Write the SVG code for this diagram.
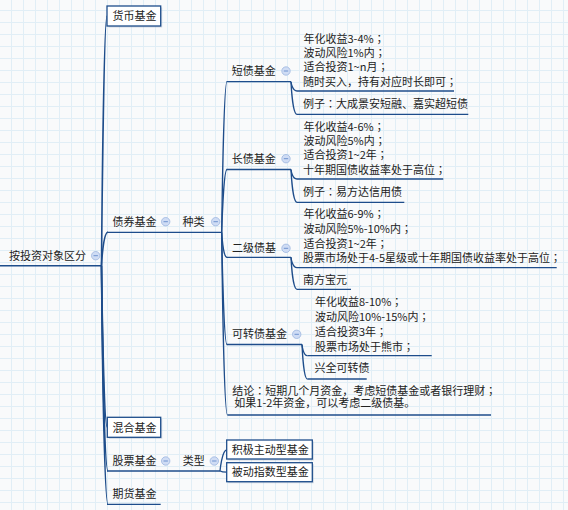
<svg xmlns="http://www.w3.org/2000/svg" width="568" height="510" viewBox="0 0 568 510">
<defs>
<pattern id="grid" x="11" y="10" width="12" height="12" patternUnits="userSpaceOnUse">
<path d="M0,0.5 H12 M0.5,0 V12" stroke="#e1eef6" stroke-width="1" fill="none"/>
</pattern>
<g id="minus">
<circle cx="0" cy="0" r="4.2" fill="#cfdcf4" stroke="#9db6e0" stroke-width="0.8"/>
<line x1="-2.2" y1="0" x2="2.2" y2="0" stroke="#6f93cf" stroke-width="1"/>
</g>
</defs>
<style>
text{font-family:"Noto Sans CJK SC","Noto Sans",sans-serif;font-size:11px;fill:#222}
.p{font-family:"Noto Sans CJK TC","Noto Sans CJK SC",sans-serif}
.ul{stroke:#1e4d8b;stroke-width:1.3;fill:none}
.cn{stroke:#1e4d8b;stroke-width:1.3;fill:none}
.sp{stroke:#1e4d8b;stroke-width:1.6;fill:none}
.box{fill:#fff;stroke:#1e4d8b;stroke-width:1.3}
.sh{fill:#9fb0c6;opacity:.45}
</style>
<rect width="568" height="510" fill="#f9fafb"/>
<rect width="568" height="510" fill="url(#grid)"/>

<g id="connectors">
<path class="sp" d="M101.5,265.7 C101.5,265.7 103.5,16 107,16"/>
<path class="sp" d="M101.5,265.7 C101.5,265.7 103,232.3 108,232.3"/>
<path class="sp" d="M101.5,265.7 C101.5,265.7 103.5,427.3 107.3,427.3"/>
<path class="sp" d="M101.5,265.7 C101.5,265.7 103.5,471 108,471"/>
<path class="sp" d="M101.5,265.7 C101.5,265.7 103.5,504.3 108,504.3"/>

<path class="cn" d="M221.7,232.3 C221.7,232.3 223.5,81.7 227,81.7"/>
<path class="cn" d="M221.7,232.3 C221.7,232.3 223.5,169.5 227,169.5"/>
<path class="cn" d="M221.7,232.3 C221.7,232.3 223,257.3 227,257.3"/>
<path class="cn" d="M221.7,232.3 C221.7,232.3 223.5,344.5 227,344.5"/>
<path class="cn" d="M221.7,232.3 C221.7,232.3 223.5,415 227.5,415"/>

<path class="cn" d="M291,81.7 C291,81.7 292,91 297,91"/>
<path class="cn" d="M291,81.7 C291,81.7 292.5,114.3 297,114.3"/>
<path class="cn" d="M291,169.5 C291,169.5 292,179 297,179"/>
<path class="cn" d="M291,169.5 C291,169.5 292.5,202.3 297,202.3"/>
<path class="cn" d="M291,257.3 C291,257.3 292,267.7 297,267.7"/>
<path class="cn" d="M291,257.3 C291,257.3 292.5,289.3 297,289.3"/>
<path class="cn" d="M302,344.5 C302,344.5 303,355.7 307.3,355.7"/>
<path class="cn" d="M302,344.5 C302,344.5 303.5,379 307.3,379"/>

<path class="cn" d="M220,471 C220,471 222,450 226.7,450"/>
<path class="cn" d="M220,471 C220,471 222,472.2 226.7,472.2"/>
</g>

<g id="root">
<text x="9" y="259.7">按投资对象区分</text>
<use href="#minus" x="95.7" y="255.7"/>
<path class="sp" d="M0,265.7 H101.5"/>
</g>

<g id="n-huobi">
<rect class="sh" x="108.5" y="7.5" width="53.7" height="20"/>
<rect class="box" x="107" y="6" width="53.7" height="20"/>
<text x="112.5" y="20.3">货币基金</text>
</g>

<g id="n-zhaiquan">
<text x="112.5" y="226">债券基金</text>
<use href="#minus" x="165.7" y="221.7"/>
<path class="ul" d="M107,232.3 H176"/>
</g>

<g id="n-zhonglei">
<text x="182.5" y="226">种类</text>
<use href="#minus" x="215.7" y="221.7"/>
<path class="ul" d="M176,232.3 H221.7"/>
</g>

<g id="n-duanzhai">
<text x="231.7" y="75">短债基金</text>
<use href="#minus" x="286" y="71"/>
<path class="ul" d="M226.7,81.7 H291"/>
</g>
<g id="n-duanzhai-info">
<text><tspan x="303.5" y="42.7">年化收益3-4%<tspan class="p">；</tspan></tspan><tspan x="303.5" y="57">波动风险1%内<tspan class="p">；</tspan></tspan><tspan x="303.5" y="71.4">适合投资1~n月<tspan class="p">；</tspan></tspan><tspan x="303" y="86">随时买入，持有对应时长即可<tspan class="p">；</tspan></tspan></text>
<path class="ul" d="M297,91 H454"/>
</g>
<g id="n-duanzhai-eg">
<text x="303" y="108.4">例子<tspan class="p">：</tspan>大成景安短融、嘉实超短债</text>
<path class="ul" d="M297,114.3 H468.3"/>
</g>

<g id="n-changzhai">
<text x="231.7" y="162.7">长债基金</text>
<use href="#minus" x="286" y="158.7"/>
<path class="ul" d="M226.7,169.5 H291"/>
</g>
<g id="n-changzhai-info">
<text><tspan x="303.5" y="130.7">年化收益4-6%<tspan class="p">；</tspan></tspan><tspan x="303.5" y="145">波动风险5%内<tspan class="p">；</tspan></tspan><tspan x="303.5" y="159.4">适合投资1~2年<tspan class="p">；</tspan></tspan><tspan x="303" y="174">十年期国债收益率处于高位<tspan class="p">；</tspan></tspan></text>
<path class="ul" d="M297,179 H443.3"/>
</g>
<g id="n-changzhai-eg">
<text x="303" y="195.8">例子<tspan class="p">：</tspan>易方达信用债</text>
<path class="ul" d="M297,202.3 H404.3"/>
</g>

<g id="n-erji">
<text x="232" y="252.3">二级债基</text>
<use href="#minus" x="286" y="248.3"/>
<path class="ul" d="M226.7,257.3 H291"/>
</g>
<g id="n-erji-info">
<text><tspan x="303.5" y="218">年化收益6-9%<tspan class="p">；</tspan></tspan><tspan x="303.5" y="233">波动风险5%-10%内<tspan class="p">；</tspan></tspan><tspan x="303.5" y="247.5">适合投资1~2年<tspan class="p">；</tspan></tspan><tspan x="303" y="262.3">股票市场处于4-5星级或十年期国债收益率处于高位<tspan class="p">；</tspan></tspan></text>
<path class="ul" d="M297,267.7 H556.7"/>
</g>
<g id="n-erji-eg">
<text x="303" y="284">南方宝元</text>
<path class="ul" d="M297,289.3 H351"/>
</g>

<g id="n-kezhuan">
<text x="232" y="338.3">可转债基金</text>
<use href="#minus" x="296.7" y="334.3"/>
<path class="ul" d="M226.7,344.5 H302"/>
</g>
<g id="n-kezhuan-info">
<text><tspan x="315" y="306.3">年化收益8-10%<tspan class="p">；</tspan></tspan><tspan x="315" y="320.7">波动风险10%-15%内<tspan class="p">；</tspan></tspan><tspan x="315" y="335.7">适合投资3年<tspan class="p">；</tspan></tspan><tspan x="315" y="350.7">股票市场处于熊市<tspan class="p">；</tspan></tspan></text>
<path class="ul" d="M307.3,355.7 H431.7"/>
</g>
<g id="n-kezhuan-eg">
<text x="314.5" y="372.3">兴全可转债</text>
<path class="ul" d="M307.3,379 H366.7"/>
</g>

<g id="n-jielun">
<text><tspan x="232.3" y="395">结论<tspan class="p">：</tspan>短期几个月资金，考虑短债基金或者银行理财<tspan class="p">；</tspan></tspan><tspan x="234.3" y="407.4">如果1-2年资金，可以考虑二级债基。</tspan></text>
<path class="ul" d="M227.5,415 H491"/>
</g>

<g id="n-hunhe">
<rect class="sh" x="108.8" y="418.8" width="53.4" height="20"/>
<rect class="box" x="107.3" y="417.3" width="53.4" height="20"/>
<text x="112.5" y="431.6">混合基金</text>
</g>

<g id="n-gupiao">
<text x="112.5" y="464.8">股票基金</text>
<use href="#minus" x="165.7" y="461"/>
<path class="ul" d="M107,471 H176"/>
</g>
<g id="n-leixing">
<text x="182.7" y="465">类型</text>
<use href="#minus" x="214.3" y="461"/>
<path class="ul" d="M176,471 H220"/>
</g>
<g id="n-jiji">
<rect class="sh" x="228.2" y="441.5" width="85.6" height="19"/>
<rect class="box" x="226.7" y="440" width="85.6" height="19"/>
<text x="231.7" y="454">积极主动型基金</text>
</g>
<g id="n-beidong">
<rect class="sh" x="228.2" y="464.2" width="85.6" height="19"/>
<rect class="box" x="226.7" y="462.7" width="85.6" height="19"/>
<text x="231.7" y="476.3">被动指数型基金</text>
</g>

<g id="n-qihuo">
<text x="112.5" y="498.4">期货基金</text>
<path class="ul" d="M107,504.3 H160.7"/>
</g>
</svg>
